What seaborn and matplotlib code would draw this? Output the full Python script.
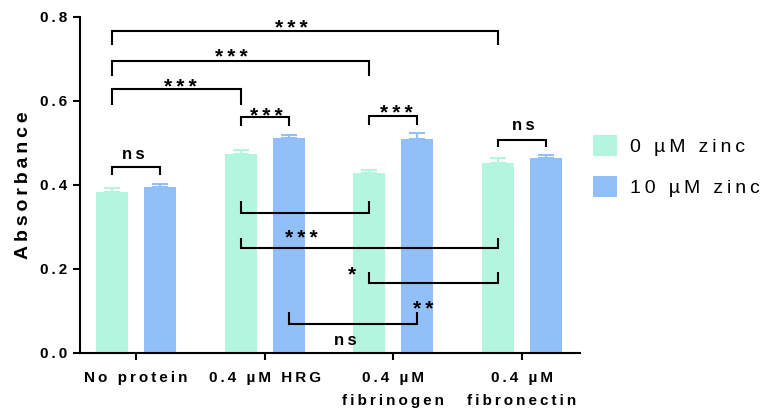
import numpy as np
import pandas as pd
import matplotlib
matplotlib.use("Agg")
import matplotlib.pyplot as plt
from matplotlib.patches import Patch
import seaborn as sns

# ---- data -------------------------------------------------------------
groups = ["No protein", "0.4 µM HRG", "0.4 µM\nfibrinogen", "0.4 µM\nfibronectin"]
zinc_levels = ["0 µM zinc", "10 µM zinc"]
mean_0uM = [0.383, 0.475, 0.428, 0.452]
mean_10uM = [0.395, 0.511, 0.510, 0.464]
sem_0uM = [0.009, 0.008, 0.008, 0.012]
sem_10uM = [0.007, 0.008, 0.013, 0.008]
y_ticks = [0.0, 0.2, 0.4, 0.6, 0.8]

# significance comparisons: (group a, zinc a, group b, zinc b, label)
comparisons = [
    (0, 0, 3, 0, "***"),
    (0, 0, 2, 0, "***"),
    (0, 0, 1, 0, "***"),
    (1, 0, 1, 1, "***"),
    (2, 0, 2, 1, "***"),
    (3, 0, 3, 1, "ns"),
    (0, 0, 0, 1, "ns"),
    (1, 0, 2, 0, "***"),
    (1, 0, 3, 0, "*"),
    (2, 0, 3, 0, "**"),
    (1, 1, 2, 1, "ns"),
]

# bracket layout: (bar line y, leg end y, label x, label baseline y)
bracket_layout = [
    (0.767, 0.733, 1.204, 0.760),
    (0.695, 0.660, 0.743, 0.691),
    (0.629, 0.590, 0.342, 0.619),
    (0.562, 0.540, 1.015, 0.551),
    (0.564, 0.543, 2.019, 0.557),
    (0.507, 0.490, 3.010, 0.531),
    (0.443, 0.424, -0.021, 0.461),
    (0.333, 0.362, 1.287, 0.260),
    (0.250, 0.274, 1.676, 0.173),
    (0.167, 0.193, 2.230, 0.091),
    (0.069, 0.098, 1.624, 0.019),
]

colors = ["#B4F5DF", "#91BFF8"]
FONT = ["Liberation Sans", "DejaVu Sans"]
plt.rcParams["font.family"] = FONT
LW = 1.5


def spaced(s):
    """Widen letter spacing with thin spaces between characters."""
    return "\n".join("\u2009".join(line) for line in s.split("\n"))


rows = []
for i, g in enumerate(groups):
    rows.append((g, zinc_levels[0], mean_0uM[i]))
    rows.append((g, zinc_levels[1], mean_10uM[i]))
df = pd.DataFrame(rows, columns=["group", "zinc", "absorbance"])

fig = plt.figure(figsize=(7.66, 4.09), dpi=100)
ax = fig.add_axes([80 / 766, 1 - 353 / 409, 500 / 766, 336 / 409])

sns.barplot(data=df, x="group", y="absorbance", hue="zinc", order=groups,
            hue_order=zinc_levels, palette=colors, saturation=1,
            width=0.745, gap=0.33, errorbar=None, legend=False, ax=ax)

bar_containers = list(ax.containers)[:2]
centers = [[b.get_x() + b.get_width() / 2 for b in cont] for cont in bar_containers]

# one-sided (upper) SEM error bars in the bar colour
for h, cont in enumerate(bar_containers):
    sems = sem_0uM if h == 0 else sem_10uM
    for bar, s in zip(cont, sems):
        x = bar.get_x() + bar.get_width() / 2
        ax.errorbar(x, bar.get_height(), yerr=[[0], [s]], fmt="none",
                    ecolor=bar.get_facecolor(), elinewidth=LW, capsize=5.8,
                    capthick=LW, zorder=1)

# significance brackets
for (ga, ha, gb, hb, label), (yl, yleg, tx, ty) in zip(comparisons, bracket_layout):
    xa, xb = centers[ha][ga], centers[hb][gb]
    ax.plot([xa, xa, xb, xb], [yleg, yl, yl, yleg], color="black", lw=LW,
            solid_joinstyle="miter", solid_capstyle="butt", clip_on=False, zorder=4)
    size = 12 if label == "ns" else 15
    ax.text(tx, ty, spaced(label), ha="center", va="baseline", fontsize=size,
            fontweight="bold", color="black", zorder=5)

# axes styling
ax.set_xlim(-0.435, 3.45)
ax.set_ylim(0, 0.8)
ax.set_yticks(y_ticks)
ax.set_yticklabels([spaced(f"{v:.1f}") for v in y_ticks], fontsize=11, fontweight="bold")
ax.set_xticks(range(len(groups)))
ax.set_xticklabels([spaced(g) for g in groups], fontsize=11, fontweight="bold",
                   linespacing=1.85)
ax.set_xlabel("")
ax.set_ylabel(spaced("Absorbance"), fontsize=14, fontweight="bold", labelpad=6)
for side in ("top", "right"):
    ax.spines[side].set_visible(False)
for side in ("left", "bottom"):
    ax.spines[side].set_linewidth(LW)
    ax.spines[side].set_color("black")
ax.tick_params(axis="both", direction="out", length=5, width=LW, color="black", pad=4)
ax.tick_params(axis="x", pad=8)
ax.set_facecolor("white")

handles = [Patch(facecolor=c[0].get_facecolor(), edgecolor="none") for c in bar_containers]
fig.legend(handles, [spaced(z) for z in zinc_levels], loc="upper left",
           bbox_to_anchor=(593 / 766, 1 - 135 / 409), frameon=False,
           prop={"size": 14}, handlelength=1.24, handleheight=1.25,
           handletextpad=0.65, labelspacing=1.05, borderpad=0, borderaxespad=0)

fig.savefig("out.png", dpi=100, facecolor="white")
